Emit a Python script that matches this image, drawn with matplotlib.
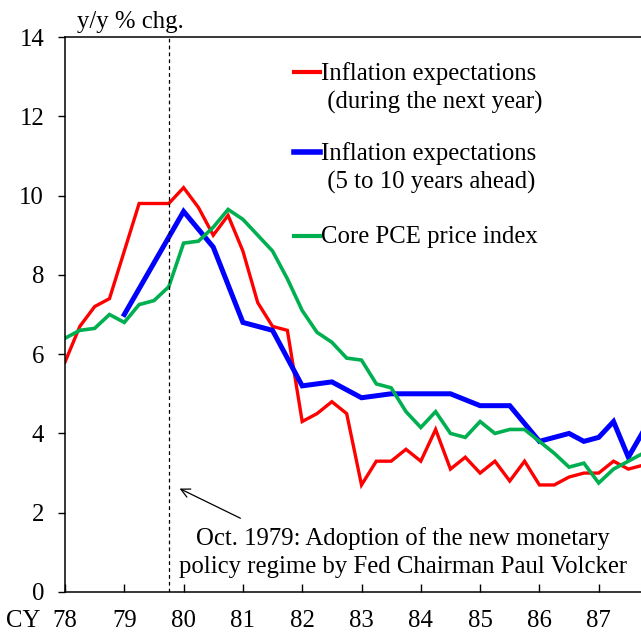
"""
Inflation expectations vs core PCE, 1978-87 (Volcker regime change)
"""
import matplotlib.pyplot as plt
from matplotlib.lines import Line2D

plt.rcParams['font.family'] = ['Liberation Serif', 'DejaVu Serif']

# quarterly dates, CY78 Q1 .. CY87 Q4
qtr = [78 + 0.25 * i for i in range(40)]

pr_next_year = [5.8, 6.7, 7.2, 7.4, 8.6, 9.8, 9.8, 9.8,
                10.2, 9.7, 9.0, 9.5, 8.6, 7.3, 6.7, 6.6,
                4.3, 4.5, 4.8, 4.5, 2.7, 3.3, 3.3, 3.6,
                3.3, 4.1, 3.1, 3.4, 3.0, 3.3, 2.8, 3.3,
                2.7, 2.7, 2.9, 3.0, 3.0, 3.3, 3.1, 3.2]

core_pce = [6.4, 6.6, 6.65, 7.0, 6.8, 7.25, 7.35, 7.7,
            8.8, 8.85, 9.2, 9.65, 9.4, 9.0, 8.6, 7.9,
            7.1, 6.55, 6.3, 5.9, 5.85, 5.25, 5.15, 4.55,
            4.15, 4.55, 4.0, 3.9, 4.3, 4.0, 4.1, 4.1,
            3.8, 3.5, 3.15, 3.25, 2.75, 3.1, 3.3, 3.5]

# long-run expectations: sparse survey dates
lr_dates = [79.0, 80.0, 80.5, 81.0, 81.5, 82.0, 82.5, 83.0, 83.5, 84.0, 84.5,
            85.0, 85.5, 86.0, 86.25, 86.5, 86.75, 87.0, 87.25, 87.5, 87.75]
pr_5_10yr = [7.0, 9.6, 8.7, 6.8, 6.6, 5.2, 5.3, 4.9, 5.0, 5.0, 5.0,
             4.7, 4.7, 3.8, 3.9, 4.0, 3.8, 3.9, 4.3, 3.4, 4.05]

year_ticks = list(range(78, 88))
volcker_date = 79.75

c_red = "#ff0000"
c_blue = "#0000ff"
c_green = "#00b050"
fs = 17.8

fig = plt.figure(figsize=(6.41, 6.39), dpi=100)
ax = fig.add_axes([65 / 641, 1 - 592 / 639, 576 / 641, 555 / 639])

ax.plot(qtr, pr_next_year, color=c_red, lw=2.4, solid_joinstyle="miter")
ax.plot(lr_dates, pr_5_10yr, color=c_blue, lw=3.6, solid_joinstyle="miter")
ax.plot(qtr, core_pce, color=c_green, lw=2.6, solid_joinstyle="miter")

ax.axvline(volcker_date, color="black", lw=0.9, ls=(0, (3, 2.5)))

ax.set_xlim(78, 78 + 576 / 59.3)
ax.set_ylim(0, 14)
ax.set_xticks(year_ticks)
ax.set_xticklabels([str(y) for y in year_ticks])
ax.set_yticks(range(0, 15, 2))
ax.tick_params(axis="y", direction="out", length=5, width=1, pad=10, labelsize=fs)
ax.tick_params(axis="x", direction="in", length=6, width=1, pad=13, labelsize=fs)
ax.spines["right"].set_visible(False)
for s in ["left", "bottom", "top"]:
    ax.spines[s].set_linewidth(1.1)

ax.text(78.2, 14.1, "y/y % chg.", fontsize=fs, ha="left", va="bottom")
fig.text(6 / 641, 1 - 621 / 639, "CY", fontsize=fs, ha="left", va="center")

# hand-drawn legend, handle next to first line of each label
leg = [(c_red, 3.0, "Inflation expectations\n (during the next year)", 72),
       (c_blue, 4.0, "Inflation expectations\n (5 to 10 years ahead)", 152),
       (c_green, 3.0, "Core PCE price index", 236)]
for col, lw, lab, ypix in leg:
    yf = 1 - ypix / 639
    fig.add_artist(Line2D([294 / 641, 320 / 641], [yf, yf], color=col, lw=lw,
                          transform=fig.transFigure))
    fig.text(321 / 641, yf + 0.016, lab, fontsize=fs, ha="left", va="top",
             linespacing=1.35)

ax.annotate("", xy=(79.89, 2.64), xytext=(81.0, 1.83),
            arrowprops=dict(arrowstyle="->", color="black", lw=0.9,
                            mutation_scale=16))
ax.text(83.7, 1.0, "Oct. 1979: Adoption of the new monetary\n"
        "policy regime by Fed Chairman Paul Volcker",
        fontsize=fs, ha="center", va="center", linespacing=1.35)

fig.savefig("out.png", dpi=100)
